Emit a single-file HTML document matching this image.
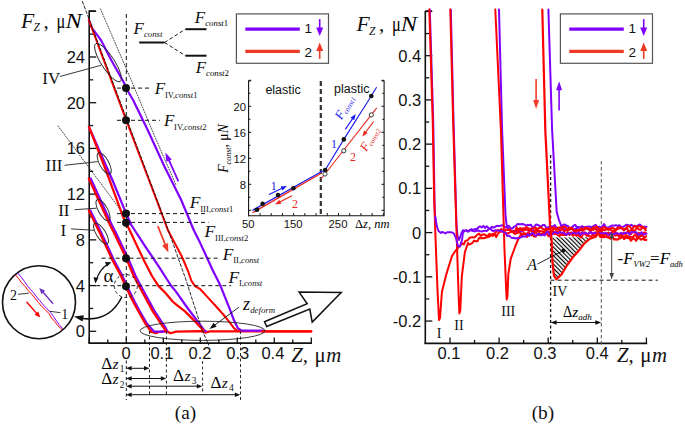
<!DOCTYPE html>
<html><head><meta charset="utf-8"><style>
html,body{margin:0;padding:0;background:#fff;width:685px;height:424px;overflow:hidden}
svg{display:block}
</style></head><body>
<svg width="685" height="424" viewBox="0 0 685 424">
<rect width="685" height="424" fill="#fff"/>
<line x1="89.20" y1="10.50" x2="89.20" y2="343.20" stroke="#111" stroke-width="1.6" />
<line x1="88.40" y1="343.10" x2="312.00" y2="343.10" stroke="#111" stroke-width="1.6" />
<line x1="89.20" y1="331.30" x2="96.20" y2="331.30" stroke="#111" stroke-width="1.3" />
<line x1="89.20" y1="308.44" x2="93.20" y2="308.44" stroke="#111" stroke-width="1.3" />
<line x1="89.20" y1="285.58" x2="96.20" y2="285.58" stroke="#111" stroke-width="1.3" />
<line x1="89.20" y1="262.72" x2="93.20" y2="262.72" stroke="#111" stroke-width="1.3" />
<line x1="89.20" y1="239.86" x2="96.20" y2="239.86" stroke="#111" stroke-width="1.3" />
<line x1="89.20" y1="217.00" x2="93.20" y2="217.00" stroke="#111" stroke-width="1.3" />
<line x1="89.20" y1="194.14" x2="96.20" y2="194.14" stroke="#111" stroke-width="1.3" />
<line x1="89.20" y1="171.28" x2="93.20" y2="171.28" stroke="#111" stroke-width="1.3" />
<line x1="89.20" y1="148.42" x2="96.20" y2="148.42" stroke="#111" stroke-width="1.3" />
<line x1="89.20" y1="125.56" x2="93.20" y2="125.56" stroke="#111" stroke-width="1.3" />
<line x1="89.20" y1="102.70" x2="96.20" y2="102.70" stroke="#111" stroke-width="1.3" />
<line x1="89.20" y1="79.84" x2="93.20" y2="79.84" stroke="#111" stroke-width="1.3" />
<line x1="89.20" y1="56.98" x2="96.20" y2="56.98" stroke="#111" stroke-width="1.3" />
<line x1="89.20" y1="34.12" x2="93.20" y2="34.12" stroke="#111" stroke-width="1.3" />
<line x1="89.20" y1="11.26" x2="96.20" y2="11.26" stroke="#111" stroke-width="1.3" />
<line x1="89.20" y1="10.90" x2="95.70" y2="10.90" stroke="#111" stroke-width="1.3" />
<line x1="89.30" y1="343.10" x2="89.30" y2="337.50" stroke="#111" stroke-width="1.3" />
<line x1="107.80" y1="343.10" x2="107.80" y2="339.60" stroke="#111" stroke-width="1.3" />
<line x1="126.30" y1="343.10" x2="126.30" y2="337.50" stroke="#111" stroke-width="1.3" />
<line x1="144.80" y1="343.10" x2="144.80" y2="339.60" stroke="#111" stroke-width="1.3" />
<line x1="163.30" y1="343.10" x2="163.30" y2="337.50" stroke="#111" stroke-width="1.3" />
<line x1="181.80" y1="343.10" x2="181.80" y2="339.60" stroke="#111" stroke-width="1.3" />
<line x1="200.30" y1="343.10" x2="200.30" y2="337.50" stroke="#111" stroke-width="1.3" />
<line x1="218.80" y1="343.10" x2="218.80" y2="339.60" stroke="#111" stroke-width="1.3" />
<line x1="237.30" y1="343.10" x2="237.30" y2="337.50" stroke="#111" stroke-width="1.3" />
<line x1="255.80" y1="343.10" x2="255.80" y2="339.60" stroke="#111" stroke-width="1.3" />
<line x1="274.30" y1="343.10" x2="274.30" y2="337.50" stroke="#111" stroke-width="1.3" />
<line x1="292.80" y1="343.10" x2="292.80" y2="339.60" stroke="#111" stroke-width="1.3" />
<line x1="311.30" y1="343.10" x2="311.30" y2="337.50" stroke="#111" stroke-width="1.3" />
<text x="85.00" y="337.30" font-size="16.5" style="font-family:'Liberation Sans',sans-serif" text-anchor="end" fill="#111" >0</text>
<text x="85.00" y="291.58" font-size="16.5" style="font-family:'Liberation Sans',sans-serif" text-anchor="end" fill="#111" >4</text>
<text x="85.00" y="245.86" font-size="16.5" style="font-family:'Liberation Sans',sans-serif" text-anchor="end" fill="#111" >8</text>
<text x="85.00" y="200.14" font-size="16.5" style="font-family:'Liberation Sans',sans-serif" text-anchor="end" fill="#111" >12</text>
<text x="85.00" y="154.42" font-size="16.5" style="font-family:'Liberation Sans',sans-serif" text-anchor="end" fill="#111" >16</text>
<text x="85.00" y="108.70" font-size="16.5" style="font-family:'Liberation Sans',sans-serif" text-anchor="end" fill="#111" >20</text>
<text x="85.00" y="62.98" font-size="16.5" style="font-family:'Liberation Sans',sans-serif" text-anchor="end" fill="#111" >24</text>
<text x="126.10" y="359.30" font-size="16.5" style="font-family:'Liberation Sans',sans-serif" text-anchor="middle" fill="#111" >0</text>
<text x="161.90" y="359.30" font-size="16.5" style="font-family:'Liberation Sans',sans-serif" text-anchor="middle" fill="#111" >0.1</text>
<text x="200.00" y="359.30" font-size="16.5" style="font-family:'Liberation Sans',sans-serif" text-anchor="middle" fill="#111" >0.2</text>
<text x="237.70" y="359.30" font-size="16.5" style="font-family:'Liberation Sans',sans-serif" text-anchor="middle" fill="#111" >0.3</text>
<text x="272.90" y="359.30" font-size="16.5" style="font-family:'Liberation Sans',sans-serif" text-anchor="middle" fill="#111" >0.4</text>
<polyline points="100.50,9.00 131.50,80.80 154.10,135.00 176.00,185.00" fill="none" stroke="#333" stroke-width="0.9" stroke-linejoin="round" stroke-linecap="round" stroke-dasharray="1,1.6" />
<polyline points="58.00,126.00 124.00,214.50" fill="none" stroke="#333" stroke-width="0.9" stroke-linejoin="round" stroke-linecap="round" stroke-dasharray="1,1.6" />
<polyline points="150.00,331.40 155.60,333.20 160.00,331.80 167.00,331.20 170.50,333.20 176.00,331.60 202.00,331.20 205.20,332.60 210.00,331.40 311.30,331.30" fill="none" stroke="#ff0000" stroke-width="2.2" stroke-linejoin="round" stroke-linecap="round" />
<polyline points="90.30,210.30 97.40,225.00 100.90,232.00 113.90,260.00 122.50,276.00 127.10,286.20 134.50,301.50 141.50,314.20 147.20,324.10 154.00,331.60 164.00,331.60" fill="none" stroke="#8000ff" stroke-width="2.2" stroke-linejoin="round" stroke-linecap="round" />
<polyline points="88.80,210.30 95.90,225.00 99.40,232.00 112.40,260.00 121.00,276.00 125.60,286.20 133.00,301.50 140.00,314.20 145.70,324.10 151.40,331.90" fill="none" stroke="#ff0000" stroke-width="2.2" stroke-linejoin="round" stroke-linecap="round" />
<polyline points="90.70,178.50 111.90,225.00 115.50,232.00 128.20,258.50 135.60,276.00 140.90,286.00 146.20,295.80 154.70,311.40 160.30,319.80 166.00,328.30 167.00,331.40" fill="none" stroke="#8000ff" stroke-width="2.2" stroke-linejoin="round" stroke-linecap="round" />
<polyline points="88.80,178.50 110.00,225.00 113.60,232.00 126.30,258.50 133.70,276.00 139.00,286.00 144.30,295.80 152.80,311.40 158.40,319.80 164.10,328.30 166.40,331.50" fill="none" stroke="#ff0000" stroke-width="2.2" stroke-linejoin="round" stroke-linecap="round" />
<polyline points="89.00,127.00 107.90,170.00 112.40,180.00 126.30,213.80 131.30,225.00 146.00,247.60 151.50,255.70 160.00,268.40 164.80,276.00 171.30,286.00 176.00,291.60 185.00,304.50 204.30,330.40 206.00,331.20" fill="none" stroke="#8000ff" stroke-width="2.2" stroke-linejoin="round" stroke-linecap="round" />
<polyline points="89.00,127.00 105.80,170.00 125.60,223.70 128.60,228.00 143.70,260.00 152.00,276.00 158.40,285.90 165.50,293.00 172.60,301.50 176.00,304.30 185.00,311.40 194.20,320.60 203.40,330.60" fill="none" stroke="#ff0000" stroke-width="2.2" stroke-linejoin="round" stroke-linecap="round" />
<polyline points="89.00,20.50 92.20,28.30 100.60,39.60 111.20,60.00 125.40,85.20 126.00,88.00 133.10,100.00 147.70,130.00 164.20,166.00 181.20,200.00 193.70,230.00 200.00,242.60 206.20,256.00 212.60,270.00 220.30,285.30 229.50,308.30 234.10,320.60 237.90,328.30 241.70,330.60 246.00,330.60 263.00,330.60" fill="none" stroke="#8000ff" stroke-width="2.2" stroke-linejoin="round" stroke-linecap="round" />
<polyline points="88.80,20.00 126.20,120.20 149.00,180.00 159.00,206.40 167.80,230.00 181.60,256.00 188.00,271.00 191.50,281.00 195.00,286.10 200.30,289.20 208.00,297.60 215.70,306.00 223.30,314.50 229.50,322.10 234.10,328.30 237.10,330.60 240.00,331.30" fill="none" stroke="#ff0000" stroke-width="2.0" stroke-linejoin="round" stroke-linecap="round" />
<polyline points="82.40,1.40 127.10,120.20 166.80,226.00 185.20,277.70 202.60,331.30 208.70,345.00" fill="none" stroke="#111" stroke-width="0.9" stroke-linejoin="round" stroke-linecap="round" stroke-dasharray="3,2" />
<polyline points="262.00,331.30 311.30,331.30" fill="none" stroke="#ff0000" stroke-width="2.2" stroke-linejoin="round" stroke-linecap="round" />
<line x1="117.00" y1="88.10" x2="151.90" y2="88.10" stroke="#111" stroke-width="1" stroke-dasharray="4,3" />
<line x1="117.00" y1="120.30" x2="159.90" y2="120.30" stroke="#111" stroke-width="1" stroke-dasharray="4,3" />
<line x1="117.00" y1="213.60" x2="205.00" y2="213.60" stroke="#111" stroke-width="1" stroke-dasharray="4,3" />
<line x1="117.00" y1="222.40" x2="208.50" y2="222.40" stroke="#111" stroke-width="1" stroke-dasharray="4,3" />
<line x1="101.60" y1="258.20" x2="218.80" y2="258.20" stroke="#111" stroke-width="1" stroke-dasharray="4,3" />
<line x1="96.30" y1="285.70" x2="231.10" y2="285.70" stroke="#111" stroke-width="1" stroke-dasharray="4,3" />
<line x1="126.30" y1="14.00" x2="126.30" y2="343.00" stroke="#111" stroke-width="1" stroke-dasharray="4,3" />
<line x1="126.30" y1="360.50" x2="126.30" y2="400.00" stroke="#111" stroke-width="1" stroke-dasharray="3,2.5" />
<circle cx="126" cy="88.1" r="4" fill="#111"/>
<circle cx="126" cy="120.3" r="4" fill="#111"/>
<circle cx="126" cy="213.6" r="4" fill="#111"/>
<circle cx="126" cy="222.8" r="4" fill="#111"/>
<circle cx="126" cy="258.3" r="4" fill="#111"/>
<circle cx="126" cy="286.3" r="4" fill="#111"/>
<ellipse cx="108" cy="62.6" rx="22.5" ry="6.5" transform="rotate(57 108 62.6)" fill="none" stroke="#222" stroke-width="0.9"/>
<ellipse cx="104.2" cy="163.4" rx="12" ry="4.6" transform="rotate(61 104.2 163.4)" fill="none" stroke="#222" stroke-width="0.9"/>
<ellipse cx="103" cy="210.1" rx="12" ry="4.6" transform="rotate(61 103 210.1)" fill="none" stroke="#222" stroke-width="0.9"/>
<ellipse cx="101" cy="233.5" rx="12" ry="4.6" transform="rotate(58 101 233.5)" fill="none" stroke="#222" stroke-width="0.9"/>
<ellipse cx="202.5" cy="330.8" rx="62.5" ry="9.6" transform="rotate(0 202.5 330.8)" fill="none" stroke="#222" stroke-width="0.9"/>
<circle cx="125.8" cy="286" r="11.5" fill="none" stroke="#222" stroke-width="1" stroke-dasharray="3,2.5"/>
<text x="42.30" y="83.50" font-size="17" style="font-family:'Liberation Serif',serif" text-anchor="start" fill="#111" >IV</text>
<line x1="59.90" y1="76.50" x2="101.00" y2="65.30" stroke="#222" stroke-width="0.9" />
<text x="45.50" y="171.00" font-size="17" style="font-family:'Liberation Serif',serif" text-anchor="start" fill="#111" >III</text>
<line x1="64.50" y1="165.30" x2="97.80" y2="161.60" stroke="#222" stroke-width="0.9" />
<text x="58.20" y="216.20" font-size="17" style="font-family:'Liberation Serif',serif" text-anchor="start" fill="#111" >II</text>
<line x1="74.60" y1="209.70" x2="96.40" y2="208.20" stroke="#222" stroke-width="0.9" />
<text x="60.50" y="236.00" font-size="17" style="font-family:'Liberation Serif',serif" text-anchor="start" fill="#111" >I</text>
<line x1="71.00" y1="228.90" x2="94.40" y2="230.30" stroke="#222" stroke-width="0.9" />
<text x="103.50" y="282.30" font-size="19" style="font-family:'Liberation Serif',serif" text-anchor="start" fill="#111" >α</text>
<path d="M 108.5 263.5 A 30 30 0 0 0 96 281" fill="none" stroke="#111" stroke-width="1.2"/>
<polygon points="111.50,262.30 106.72,266.70 105.01,262.00" fill="#111"/>
<polygon points="95.40,283.50 93.43,277.30 98.41,277.74" fill="#111"/>
<path d="M 121.8 297 C 113 315, 98 320.8, 81 318.2" fill="none" stroke="#111" stroke-width="1.6"/>
<polygon points="73.90,316.50 83.86,315.26 82.54,321.62" fill="#111"/>
<circle cx="39" cy="302.2" r="36.5" fill="none" stroke="#111" stroke-width="1.6"/>
<polyline points="17.82,273.35 21.34,277.17 24.41,281.35 27.12,285.39 30.28,289.21 33.50,292.75 37.04,297.38 39.92,300.67 43.61,305.29 46.75,308.63 50.33,312.18 53.40,316.31 55.87,320.03 59.22,324.62 62.28,328.28" fill="none" stroke="#8000ff" stroke-width="1" stroke-linejoin="round" stroke-linecap="round" />
<polyline points="15.44,275.07 18.65,278.63 21.47,282.63 25.40,286.72 28.34,290.74 31.79,294.32 35.44,298.58 38.19,302.32 41.78,306.49 45.29,309.77 48.85,313.46 51.60,317.96 54.64,321.56 57.83,325.60 61.86,329.37" fill="none" stroke="#ff0000" stroke-width="1" stroke-linejoin="round" stroke-linecap="round" />
<line x1="53.10" y1="303.80" x2="42.45" y2="291.53" stroke="#6a30c0" stroke-width="1.3" />
<polygon points="39.30,287.90 45.12,290.79 41.34,294.07" fill="#6a30c0"/>
<line x1="26.50" y1="301.70" x2="37.15" y2="313.97" stroke="#ff0000" stroke-width="1.3" />
<polygon points="40.30,317.60 34.48,314.71 38.26,311.43" fill="#ff0000"/>
<text x="10.00" y="299.60" font-size="14" style="font-family:'Liberation Serif',serif" text-anchor="start" fill="#111" >2</text>
<line x1="18.00" y1="294.30" x2="28.70" y2="293.20" stroke="#222" stroke-width="0.9" />
<text x="61.30" y="318.70" font-size="14" style="font-family:'Liberation Serif',serif" text-anchor="start" fill="#111" >1</text>
<line x1="49.90" y1="311.30" x2="60.50" y2="312.70" stroke="#222" stroke-width="0.9" />
<line x1="239.00" y1="307.10" x2="214.00" y2="325.66" stroke="#111" stroke-width="0.9" />
<polygon points="209.50,329.00 213.63,322.82 216.61,326.83" fill="#111"/>
<text x="243.00" y="310.00" font-size="18" style="font-family:'Liberation Serif',serif;font-style:italic" text-anchor="start" fill="#111" >z</text>
<text x="250.20" y="313.20" font-size="8.8" style="font-family:'Liberation Serif',serif;font-style:italic" text-anchor="start" fill="#111" >deform</text>
<polygon points="264.5,321.7 307.2,303.7 299.1,292.1 341.2,292.5 312.2,322.1 309.8,309.1 266.7,326.5" fill="#fff" stroke="#111" stroke-width="1.5" stroke-linejoin="miter"/>
<text x="154.80" y="94.00" font-size="17" style="font-family:'Liberation Serif',serif;font-style:italic" text-anchor="start" fill="#111" >F</text>
<text x="165.00" y="97.60" font-size="8.6" style="font-family:'Liberation Serif',serif" fill="#111">IV,<tspan font-style="italic">const</tspan>1</text>
<text x="163.90" y="126.10" font-size="17" style="font-family:'Liberation Serif',serif;font-style:italic" text-anchor="start" fill="#111" >F</text>
<text x="174.10" y="129.70" font-size="8.6" style="font-family:'Liberation Serif',serif" fill="#111">IV,<tspan font-style="italic">const</tspan>2</text>
<text x="189.70" y="208.20" font-size="17.5" style="font-family:'Liberation Serif',serif;font-style:italic" text-anchor="start" fill="#111" >F</text>
<text x="200.20" y="211.80" font-size="8.6" style="font-family:'Liberation Serif',serif" fill="#111">III,<tspan font-style="italic">const</tspan>1</text>
<text x="204.60" y="237.30" font-size="17.5" style="font-family:'Liberation Serif',serif;font-style:italic" text-anchor="start" fill="#111" >F</text>
<text x="215.10" y="240.90" font-size="8.6" style="font-family:'Liberation Serif',serif" fill="#111">III,<tspan font-style="italic">const</tspan>2</text>
<text x="222.70" y="259.50" font-size="17.5" style="font-family:'Liberation Serif',serif;font-style:italic" text-anchor="start" fill="#111" >F</text>
<text x="233.20" y="263.10" font-size="8.6" style="font-family:'Liberation Serif',serif" fill="#111">II,<tspan font-style="italic">const</tspan></text>
<text x="228.50" y="282.80" font-size="17.5" style="font-family:'Liberation Serif',serif;font-style:italic" text-anchor="start" fill="#111" >F</text>
<text x="239.00" y="286.40" font-size="8.6" style="font-family:'Liberation Serif',serif" fill="#111">I,<tspan font-style="italic">const</tspan></text>
<line x1="178.40" y1="181.40" x2="168.35" y2="158.97" stroke="#8000ff" stroke-width="1.8" />
<polygon points="165.40,152.40 171.82,159.39 166.34,161.84" fill="#8000ff"/>
<line x1="157.80" y1="226.00" x2="165.73" y2="245.91" stroke="#f03c28" stroke-width="1.8" />
<polygon points="168.40,252.60 162.05,245.44 168.09,243.04" fill="#f03c28"/>
<text x="133.50" y="33.60" font-size="17" style="font-family:'Liberation Serif',serif;font-style:italic" text-anchor="start" fill="#111" >F</text>
<text x="143.90" y="36.80" font-size="8.8" style="font-family:'Liberation Serif',serif;font-style:italic" text-anchor="start" fill="#111" >const</text>
<line x1="139.20" y1="42.50" x2="164.60" y2="42.50" stroke="#111" stroke-width="2" />
<line x1="164.60" y1="42.50" x2="185.40" y2="29.20" stroke="#111" stroke-width="1" stroke-dasharray="3.5,2.5" />
<line x1="164.60" y1="42.50" x2="185.40" y2="55.70" stroke="#111" stroke-width="1" stroke-dasharray="3.5,2.5" />
<line x1="185.40" y1="29.20" x2="206.50" y2="29.20" stroke="#111" stroke-width="2" />
<line x1="185.40" y1="55.70" x2="206.50" y2="55.70" stroke="#111" stroke-width="2" />
<text x="194.80" y="23.00" font-size="17" style="font-family:'Liberation Serif',serif;font-style:italic" text-anchor="start" fill="#111" >F</text>
<text x="205.2" y="26" font-size="8.8" style="font-family:'Liberation Serif',serif"><tspan font-style="italic">const</tspan>1</text>
<text x="195.80" y="72.60" font-size="17" style="font-family:'Liberation Serif',serif;font-style:italic" text-anchor="start" fill="#111" >F</text>
<text x="206" y="76" font-size="8.8" style="font-family:'Liberation Serif',serif"><tspan font-style="italic">const</tspan>2</text>
<text x="21.00" y="27.50" font-size="21.6" style="font-family:'Liberation Serif',serif;font-style:italic" text-anchor="start" fill="#111" >F</text>
<text x="33.60" y="31.30" font-size="11.5" style="font-family:'Liberation Serif',serif;font-style:italic" text-anchor="start" fill="#111" >Z</text>
<text x="43.60" y="27.50" font-size="21" style="font-family:'Liberation Serif',serif" text-anchor="start" fill="#111" >,</text>
<text x="56.60" y="27.5" font-size="21" style="font-family:'Liberation Serif',serif" textLength="8.8" lengthAdjust="spacingAndGlyphs">μ</text>
<text x="65.40" y="27.5" font-size="21" style="font-family:'Liberation Serif',serif;font-style:italic" textLength="16.3" lengthAdjust="spacingAndGlyphs">N</text>
<text x="101.20" y="368.70" font-size="16.5" style="font-family:'Liberation Serif',serif" textLength="11" lengthAdjust="spacingAndGlyphs">Δ</text>
<text x="112.50" y="368.70" font-size="15.5" style="font-family:'Liberation Serif',serif;font-style:italic" text-anchor="start" fill="#111" >z</text>
<text x="119.80" y="371.90" font-size="9.5" style="font-family:'Liberation Serif',serif" text-anchor="start" fill="#111" >1</text>
<text x="101.20" y="384.30" font-size="16.5" style="font-family:'Liberation Serif',serif" textLength="11" lengthAdjust="spacingAndGlyphs">Δ</text>
<text x="112.50" y="384.30" font-size="15.5" style="font-family:'Liberation Serif',serif;font-style:italic" text-anchor="start" fill="#111" >z</text>
<text x="119.80" y="387.50" font-size="9.5" style="font-family:'Liberation Serif',serif" text-anchor="start" fill="#111" >2</text>
<text x="173.10" y="380.90" font-size="16.5" style="font-family:'Liberation Serif',serif" textLength="11" lengthAdjust="spacingAndGlyphs">Δ</text>
<text x="184.40" y="380.90" font-size="15.5" style="font-family:'Liberation Serif',serif;font-style:italic" text-anchor="start" fill="#111" >z</text>
<text x="191.70" y="384.10" font-size="9.5" style="font-family:'Liberation Serif',serif" text-anchor="start" fill="#111" >3</text>
<text x="210.40" y="388.00" font-size="16.5" style="font-family:'Liberation Serif',serif" textLength="11" lengthAdjust="spacingAndGlyphs">Δ</text>
<text x="221.70" y="388.00" font-size="15.5" style="font-family:'Liberation Serif',serif;font-style:italic" text-anchor="start" fill="#111" >z</text>
<text x="229.00" y="391.20" font-size="9.5" style="font-family:'Liberation Serif',serif" text-anchor="start" fill="#111" >4</text>
<line x1="130.50" y1="368.30" x2="145.10" y2="368.30" stroke="#111" stroke-width="1" />
<polygon points="149.50,368.30 144.00,370.55 144.00,366.05" fill="#111"/>
<polygon points="126.10,368.30 131.60,366.05 131.60,370.55" fill="#111"/>
<line x1="130.50" y1="378.50" x2="161.90" y2="378.50" stroke="#111" stroke-width="1" />
<polygon points="166.30,378.50 160.80,380.75 160.80,376.25" fill="#111"/>
<polygon points="126.10,378.50 131.60,376.25 131.60,380.75" fill="#111"/>
<line x1="130.50" y1="386.20" x2="197.90" y2="386.20" stroke="#111" stroke-width="1" />
<polygon points="202.30,386.20 196.80,388.45 196.80,383.95" fill="#111"/>
<polygon points="126.10,386.20 131.60,383.95 131.60,388.45" fill="#111"/>
<line x1="130.50" y1="394.70" x2="235.90" y2="394.70" stroke="#111" stroke-width="1" />
<polygon points="240.30,394.70 234.80,396.95 234.80,392.45" fill="#111"/>
<polygon points="126.10,394.70 131.60,392.45 131.60,396.95" fill="#111"/>
<line x1="149.50" y1="331.00" x2="149.50" y2="394.50" stroke="#111" stroke-width="0.9" stroke-dasharray="3,2.5" />
<line x1="166.40" y1="331.00" x2="166.40" y2="394.50" stroke="#111" stroke-width="0.9" stroke-dasharray="3,2.5" />
<line x1="202.60" y1="361.00" x2="202.60" y2="395.00" stroke="#111" stroke-width="0.9" stroke-dasharray="3,2.5" />
<line x1="240.50" y1="331.00" x2="240.50" y2="400.00" stroke="#111" stroke-width="0.9" stroke-dasharray="3,2.5" />
<text x="185.50" y="419.20" font-size="19.3" style="font-family:'Liberation Serif',serif" text-anchor="middle" fill="#111" >(a)</text>
<text x="542.90" y="419.20" font-size="19.3" style="font-family:'Liberation Serif',serif" text-anchor="middle" fill="#111" >(b)</text>
<text x="291.30" y="362.00" font-size="20.8" style="font-family:'Liberation Serif',serif;font-style:italic" text-anchor="start" fill="#111" >Z,</text>
<text x="314.60" y="362.00" font-size="20.8" style="font-family:'Liberation Serif',serif" text-anchor="start" fill="#111" >μ</text>
<text x="326.30" y="362.00" font-size="20.8" style="font-family:'Liberation Serif',serif;font-style:italic" text-anchor="start" fill="#111" >m</text>
<text x="616.90" y="362.00" font-size="20.8" style="font-family:'Liberation Serif',serif;font-style:italic" text-anchor="start" fill="#111" >Z,</text>
<text x="640.20" y="362.00" font-size="20.8" style="font-family:'Liberation Serif',serif" text-anchor="start" fill="#111" >μ</text>
<text x="651.90" y="362.00" font-size="20.8" style="font-family:'Liberation Serif',serif;font-style:italic" text-anchor="start" fill="#111" >m</text>
<rect x="236.4" y="13.9" width="92.1" height="49.4" fill="#fff" stroke="#555" stroke-width="1.2"/>
<line x1="245.30" y1="29.10" x2="299.80" y2="29.10" stroke="#8000ff" stroke-width="3.2" />
<line x1="245.30" y1="51.30" x2="299.80" y2="51.30" stroke="#ee3a24" stroke-width="3.2" />
<text x="304.60" y="33.20" font-size="13.5" style="font-family:'Liberation Sans',sans-serif" text-anchor="start" fill="#111" >1</text>
<text x="304.60" y="56.90" font-size="13.5" style="font-family:'Liberation Sans',sans-serif" text-anchor="start" fill="#111" >2</text>
<line x1="319.70" y1="19.10" x2="319.70" y2="29.10" stroke="#8000ff" stroke-width="1.6" />
<polygon points="319.70,35.90 316.20,27.40 323.20,27.40" fill="#8000ff"/>
<line x1="319.70" y1="58.90" x2="319.70" y2="49.20" stroke="#ee3a24" stroke-width="1.6" />
<polygon points="319.70,42.40 323.20,50.90 316.20,50.90" fill="#ee3a24"/>
<rect x="560.4" y="13.9" width="92.1" height="49.4" fill="#fff" stroke="#555" stroke-width="1.2"/>
<line x1="569.30" y1="29.10" x2="623.80" y2="29.10" stroke="#8000ff" stroke-width="3.2" />
<line x1="569.30" y1="51.30" x2="623.80" y2="51.30" stroke="#ee3a24" stroke-width="3.2" />
<text x="628.60" y="33.20" font-size="13.5" style="font-family:'Liberation Sans',sans-serif" text-anchor="start" fill="#111" >1</text>
<text x="628.60" y="56.90" font-size="13.5" style="font-family:'Liberation Sans',sans-serif" text-anchor="start" fill="#111" >2</text>
<line x1="643.70" y1="19.10" x2="643.70" y2="29.10" stroke="#8000ff" stroke-width="1.6" />
<polygon points="643.70,35.90 640.20,27.40 647.20,27.40" fill="#8000ff"/>
<line x1="643.70" y1="58.90" x2="643.70" y2="49.20" stroke="#ee3a24" stroke-width="1.6" />
<polygon points="643.70,42.40 647.20,50.90 640.20,50.90" fill="#ee3a24"/>
<line x1="248.60" y1="80.50" x2="248.60" y2="216.20" stroke="#111" stroke-width="1.1" />
<line x1="248.10" y1="215.70" x2="384.60" y2="215.70" stroke="#111" stroke-width="1.1" />
<line x1="384.10" y1="80.50" x2="384.10" y2="215.70" stroke="#111" stroke-width="1.1" />
<line x1="248.60" y1="80.90" x2="251.10" y2="80.90" stroke="#111" stroke-width="1" />
<line x1="384.10" y1="80.90" x2="381.60" y2="80.90" stroke="#111" stroke-width="1" />
<line x1="248.60" y1="210.30" x2="251.20" y2="210.30" stroke="#111" stroke-width="1" />
<line x1="384.10" y1="210.30" x2="381.50" y2="210.30" stroke="#111" stroke-width="1" />
<line x1="248.60" y1="197.30" x2="250.40" y2="197.30" stroke="#111" stroke-width="1" />
<line x1="384.10" y1="197.30" x2="382.30" y2="197.30" stroke="#111" stroke-width="1" />
<line x1="248.60" y1="184.30" x2="251.20" y2="184.30" stroke="#111" stroke-width="1" />
<line x1="384.10" y1="184.30" x2="381.50" y2="184.30" stroke="#111" stroke-width="1" />
<line x1="248.60" y1="171.30" x2="250.40" y2="171.30" stroke="#111" stroke-width="1" />
<line x1="384.10" y1="171.30" x2="382.30" y2="171.30" stroke="#111" stroke-width="1" />
<line x1="248.60" y1="158.30" x2="251.20" y2="158.30" stroke="#111" stroke-width="1" />
<line x1="384.10" y1="158.30" x2="381.50" y2="158.30" stroke="#111" stroke-width="1" />
<line x1="248.60" y1="145.30" x2="250.40" y2="145.30" stroke="#111" stroke-width="1" />
<line x1="384.10" y1="145.30" x2="382.30" y2="145.30" stroke="#111" stroke-width="1" />
<line x1="248.60" y1="132.30" x2="251.20" y2="132.30" stroke="#111" stroke-width="1" />
<line x1="384.10" y1="132.30" x2="381.50" y2="132.30" stroke="#111" stroke-width="1" />
<line x1="248.60" y1="119.30" x2="250.40" y2="119.30" stroke="#111" stroke-width="1" />
<line x1="384.10" y1="119.30" x2="382.30" y2="119.30" stroke="#111" stroke-width="1" />
<line x1="248.60" y1="106.30" x2="251.20" y2="106.30" stroke="#111" stroke-width="1" />
<line x1="384.10" y1="106.30" x2="381.50" y2="106.30" stroke="#111" stroke-width="1" />
<line x1="248.60" y1="93.30" x2="250.40" y2="93.30" stroke="#111" stroke-width="1" />
<line x1="384.10" y1="93.30" x2="382.30" y2="93.30" stroke="#111" stroke-width="1" />
<line x1="248.60" y1="80.30" x2="251.20" y2="80.30" stroke="#111" stroke-width="1" />
<line x1="384.10" y1="80.30" x2="381.50" y2="80.30" stroke="#111" stroke-width="1" />
<line x1="260.01" y1="215.70" x2="260.01" y2="213.10" stroke="#111" stroke-width="1" />
<line x1="271.23" y1="215.70" x2="271.23" y2="213.10" stroke="#111" stroke-width="1" />
<line x1="282.44" y1="215.70" x2="282.44" y2="213.10" stroke="#111" stroke-width="1" />
<line x1="293.65" y1="215.70" x2="293.65" y2="213.10" stroke="#111" stroke-width="1" />
<line x1="304.86" y1="215.70" x2="304.86" y2="213.10" stroke="#111" stroke-width="1" />
<line x1="316.08" y1="215.70" x2="316.08" y2="213.10" stroke="#111" stroke-width="1" />
<line x1="327.29" y1="215.70" x2="327.29" y2="213.10" stroke="#111" stroke-width="1" />
<line x1="338.50" y1="215.70" x2="338.50" y2="213.10" stroke="#111" stroke-width="1" />
<line x1="349.71" y1="215.70" x2="349.71" y2="213.10" stroke="#111" stroke-width="1" />
<line x1="360.93" y1="215.70" x2="360.93" y2="213.10" stroke="#111" stroke-width="1" />
<line x1="372.14" y1="215.70" x2="372.14" y2="213.10" stroke="#111" stroke-width="1" />
<line x1="383.35" y1="215.70" x2="383.35" y2="213.10" stroke="#111" stroke-width="1" />
<text x="246.00" y="188.50" font-size="11.3" style="font-family:'Liberation Sans',sans-serif" text-anchor="end" fill="#111" >8</text>
<text x="246.00" y="162.50" font-size="11.3" style="font-family:'Liberation Sans',sans-serif" text-anchor="end" fill="#111" >12</text>
<text x="246.00" y="136.50" font-size="11.3" style="font-family:'Liberation Sans',sans-serif" text-anchor="end" fill="#111" >16</text>
<text x="246.00" y="110.50" font-size="11.3" style="font-family:'Liberation Sans',sans-serif" text-anchor="end" fill="#111" >20</text>
<text x="248.30" y="228.40" font-size="11.3" style="font-family:'Liberation Sans',sans-serif" text-anchor="middle" fill="#111" >50</text>
<text x="293.15" y="228.40" font-size="11.3" style="font-family:'Liberation Sans',sans-serif" text-anchor="middle" fill="#111" >150</text>
<text x="338.00" y="228.40" font-size="11.3" style="font-family:'Liberation Sans',sans-serif" text-anchor="middle" fill="#111" >250</text>
<text x="355" y="228.3" font-size="12.5" style="font-family:'Liberation Serif',serif">Δ<tspan font-style="italic">z, nm</tspan></text>
<text transform="translate(228.2,172.8) rotate(-90)" font-size="13.7" style="font-family:'Liberation Serif',serif"><tspan font-style="italic">F</tspan><tspan font-style="italic" font-size="8" dy="2.5">const</tspan><tspan dy="-2.5">, μ</tspan><tspan font-style="italic">N</tspan></text>
<text x="265.40" y="94.40" font-size="12.5" style="font-family:'Liberation Sans',sans-serif" text-anchor="start" fill="#111" >elastic</text>
<text x="334.00" y="93.20" font-size="12.5" style="font-family:'Liberation Sans',sans-serif" text-anchor="start" fill="#111" >plastic</text>
<line x1="320.80" y1="81.00" x2="320.80" y2="215.70" stroke="#333" stroke-width="2.2" stroke-dasharray="5,3" />
<polyline points="253.00,210.10 320.80,172.00" fill="none" stroke="#1a1aee" stroke-width="1.4" stroke-linejoin="round" stroke-linecap="round" />
<polyline points="253.00,212.50 320.80,173.50" fill="none" stroke="#e8281e" stroke-width="1.4" stroke-linejoin="round" stroke-linecap="round" />
<polyline points="320.80,172.00 325.20,170.00 343.80,139.40 371.30,96.00 376.40,87.50" fill="none" stroke="#1a1aee" stroke-width="1.1" stroke-linejoin="round" stroke-linecap="round" />
<polyline points="320.80,179.00 325.00,174.00 343.00,151.00 371.30,114.90 376.40,108.30" fill="none" stroke="#e8281e" stroke-width="1.1" stroke-linejoin="round" stroke-linecap="round" />
<circle cx="257" cy="209.7" r="2.3" fill="#111"/>
<circle cx="262.6" cy="203.7" r="2.3" fill="#111"/>
<circle cx="278" cy="195.1" r="2.3" fill="#111"/>
<circle cx="325.2" cy="170" r="2.3" fill="#111"/>
<circle cx="343.8" cy="139.4" r="2.3" fill="#111"/>
<circle cx="371.3" cy="96" r="2.3" fill="#111"/>
<circle cx="293.4" cy="188.2" r="2.3" fill="#111"/>
<circle cx="325" cy="174" r="2.1" fill="#fff" stroke="#222" stroke-width="0.9"/>
<circle cx="343.8" cy="150.8" r="2.1" fill="#fff" stroke="#222" stroke-width="0.9"/>
<circle cx="371.3" cy="114.9" r="2.1" fill="#fff" stroke="#222" stroke-width="0.9"/>
<text x="270.70" y="189.70" font-size="12" style="font-family:'Liberation Serif',serif" text-anchor="start" fill="#1a1aee" >1</text>
<text x="292.00" y="207.70" font-size="12" style="font-family:'Liberation Serif',serif" text-anchor="start" fill="#e8281e" >2</text>
<line x1="269.00" y1="194.50" x2="282.66" y2="188.05" stroke="#1a1aee" stroke-width="1.2" />
<polygon points="287.00,186.00 282.54,190.60 280.61,186.53" fill="#1a1aee"/>
<line x1="292.00" y1="195.70" x2="279.26" y2="202.29" stroke="#e8281e" stroke-width="1.2" />
<polygon points="275.00,204.50 279.29,199.74 281.36,203.74" fill="#e8281e"/>
<text x="331.00" y="148.00" font-size="12" style="font-family:'Liberation Serif',serif" text-anchor="start" fill="#1a1aee" >1</text>
<text x="350.00" y="160.50" font-size="12" style="font-family:'Liberation Serif',serif" text-anchor="start" fill="#e8281e" >2</text>
<line x1="345.30" y1="129.40" x2="353.01" y2="117.98" stroke="#1a1aee" stroke-width="1.2" />
<polygon points="355.70,114.00 354.21,120.23 350.48,117.71" fill="#1a1aee"/>
<line x1="373.60" y1="121.50" x2="365.18" y2="132.76" stroke="#e8281e" stroke-width="1.2" />
<polygon points="362.30,136.60 364.09,130.45 367.70,133.14" fill="#e8281e"/>
<text transform="translate(341.5,120.2) rotate(-60)" font-size="12.5" style="font-family:'Liberation Serif',serif" fill="#1a1aee"><tspan font-style="italic">F</tspan><tspan font-style="italic" font-size="7" dy="2">const1</tspan></text>
<text transform="translate(366.5,152) rotate(-60)" font-size="12.5" style="font-family:'Liberation Serif',serif" fill="#e8281e"><tspan font-style="italic">F</tspan><tspan font-style="italic" font-size="7" dy="2">const2</tspan></text>
<line x1="425.30" y1="10.90" x2="425.30" y2="344.10" stroke="#111" stroke-width="1.6" />
<line x1="424.50" y1="343.40" x2="647.20" y2="343.40" stroke="#111" stroke-width="1.6" />
<line x1="425.30" y1="321.06" x2="432.30" y2="321.06" stroke="#111" stroke-width="1.3" />
<line x1="425.30" y1="298.94" x2="429.30" y2="298.94" stroke="#111" stroke-width="1.3" />
<line x1="425.30" y1="276.83" x2="432.30" y2="276.83" stroke="#111" stroke-width="1.3" />
<line x1="425.30" y1="254.72" x2="429.30" y2="254.72" stroke="#111" stroke-width="1.3" />
<line x1="425.30" y1="232.60" x2="432.30" y2="232.60" stroke="#111" stroke-width="1.3" />
<line x1="425.30" y1="210.48" x2="429.30" y2="210.48" stroke="#111" stroke-width="1.3" />
<line x1="425.30" y1="188.37" x2="432.30" y2="188.37" stroke="#111" stroke-width="1.3" />
<line x1="425.30" y1="166.25" x2="429.30" y2="166.25" stroke="#111" stroke-width="1.3" />
<line x1="425.30" y1="144.14" x2="432.30" y2="144.14" stroke="#111" stroke-width="1.3" />
<line x1="425.30" y1="122.02" x2="429.30" y2="122.02" stroke="#111" stroke-width="1.3" />
<line x1="425.30" y1="99.91" x2="432.30" y2="99.91" stroke="#111" stroke-width="1.3" />
<line x1="425.30" y1="77.79" x2="429.30" y2="77.79" stroke="#111" stroke-width="1.3" />
<line x1="425.30" y1="55.68" x2="432.30" y2="55.68" stroke="#111" stroke-width="1.3" />
<line x1="425.30" y1="33.56" x2="429.30" y2="33.56" stroke="#111" stroke-width="1.3" />
<line x1="425.30" y1="11.45" x2="432.30" y2="11.45" stroke="#111" stroke-width="1.3" />
<line x1="425.30" y1="10.90" x2="431.80" y2="10.90" stroke="#111" stroke-width="1.3" />
<line x1="450.00" y1="343.40" x2="450.00" y2="337.60" stroke="#111" stroke-width="1.3" />
<line x1="474.55" y1="343.40" x2="474.55" y2="339.90" stroke="#111" stroke-width="1.3" />
<line x1="499.10" y1="343.40" x2="499.10" y2="337.60" stroke="#111" stroke-width="1.3" />
<line x1="523.65" y1="343.40" x2="523.65" y2="339.90" stroke="#111" stroke-width="1.3" />
<line x1="548.20" y1="343.40" x2="548.20" y2="337.60" stroke="#111" stroke-width="1.3" />
<line x1="572.75" y1="343.40" x2="572.75" y2="339.90" stroke="#111" stroke-width="1.3" />
<line x1="597.30" y1="343.40" x2="597.30" y2="337.60" stroke="#111" stroke-width="1.3" />
<line x1="621.85" y1="343.40" x2="621.85" y2="339.90" stroke="#111" stroke-width="1.3" />
<line x1="646.40" y1="343.40" x2="646.40" y2="337.60" stroke="#111" stroke-width="1.3" />
<text x="421.30" y="61.58" font-size="16.5" style="font-family:'Liberation Sans',sans-serif" text-anchor="end" fill="#111" >0.4</text>
<text x="421.30" y="105.81" font-size="16.5" style="font-family:'Liberation Sans',sans-serif" text-anchor="end" fill="#111" >0.3</text>
<text x="421.30" y="150.04" font-size="16.5" style="font-family:'Liberation Sans',sans-serif" text-anchor="end" fill="#111" >0.2</text>
<text x="421.30" y="194.27" font-size="16.5" style="font-family:'Liberation Sans',sans-serif" text-anchor="end" fill="#111" >0.1</text>
<text x="421.30" y="238.50" font-size="16.5" style="font-family:'Liberation Sans',sans-serif" text-anchor="end" fill="#111" >0</text>
<text x="421.30" y="282.73" font-size="16.5" style="font-family:'Liberation Sans',sans-serif" text-anchor="end" fill="#111" >-0.1</text>
<text x="421.30" y="326.96" font-size="16.5" style="font-family:'Liberation Sans',sans-serif" text-anchor="end" fill="#111" >-0.2</text>
<text x="448.90" y="359.00" font-size="16.5" style="font-family:'Liberation Sans',sans-serif" text-anchor="middle" fill="#111" >0.1</text>
<text x="497.50" y="359.00" font-size="16.5" style="font-family:'Liberation Sans',sans-serif" text-anchor="middle" fill="#111" >0.2</text>
<text x="545.00" y="359.00" font-size="16.5" style="font-family:'Liberation Sans',sans-serif" text-anchor="middle" fill="#111" >0.3</text>
<text x="597.30" y="359.00" font-size="16.5" style="font-family:'Liberation Sans',sans-serif" text-anchor="middle" fill="#111" >0.4</text>
<text x="356.40" y="31.40" font-size="21.6" style="font-family:'Liberation Serif',serif;font-style:italic" text-anchor="start" fill="#111" >F</text>
<text x="369.00" y="35.20" font-size="11.5" style="font-family:'Liberation Serif',serif;font-style:italic" text-anchor="start" fill="#111" >Z</text>
<text x="379.00" y="31.40" font-size="21" style="font-family:'Liberation Serif',serif" text-anchor="start" fill="#111" >,</text>
<text x="392.00" y="31.4" font-size="21" style="font-family:'Liberation Serif',serif" textLength="8.8" lengthAdjust="spacingAndGlyphs">μ</text>
<text x="400.80" y="31.4" font-size="21" style="font-family:'Liberation Serif',serif;font-style:italic" textLength="16.3" lengthAdjust="spacingAndGlyphs">N</text>
<line x1="550.60" y1="155.00" x2="550.60" y2="343.00" stroke="#111" stroke-width="1.3" stroke-dasharray="3,2.5" />
<line x1="601.30" y1="161.00" x2="601.30" y2="346.00" stroke="#555" stroke-width="1" stroke-dasharray="3.5,2.5" />
<line x1="550.60" y1="280.20" x2="657.80" y2="280.20" stroke="#111" stroke-width="1" stroke-dasharray="4,3" />
<defs><pattern id="hatch" patternUnits="userSpaceOnUse" width="3" height="3" patternTransform="rotate(-45)"><line x1="0.6" y1="0" x2="0.6" y2="3" stroke="#000" stroke-width="1.15"/></pattern></defs>
<polygon points="552.4,237.5 590,237.3 589.5,239 584.6,243.1 579.6,249.7 573,257.1 566.4,266.2 561.5,274.5 556.5,279.1 554,276.1 552.4,261.3" fill="url(#hatch)" stroke="none"/>
<polyline points="429.80,9.50 433.20,120.00 434.60,205.00 435.20,217.00 436.50,225.00" fill="none" stroke="#8000ff" stroke-width="2" stroke-linejoin="round" stroke-linecap="round" />
<polyline points="450.80,9.50 453.50,120.00 456.50,225.00 457.50,236.00 459.00,240.00 462.00,232.00 463.00,230.26 464.70,230.88 466.40,230.11 468.10,231.70 469.80,230.24 471.50,229.06 473.20,230.34 474.90,228.93 476.60,229.26 478.30,227.52 480.00,226.21 481.70,227.49 483.40,225.89 485.10,227.95 486.80,226.27 488.50,228.06 490.20,228.78 491.90,226.77 493.60,227.73 495.30,226.72 497.00,225.76 498.70,225.89 500.40,225.69 502.10,225.18 503.80,225.85 505.50,227.52 507.20,227.09 508.90,225.76 510.60,228.29 512.30,228.57 514.00,226.61 515.70,226.22 517.40,224.07 519.10,224.33 520.80,224.29 522.50,223.99 524.20,224.49 525.90,225.69 527.60,224.81 529.30,225.16 531.00,224.68 532.70,228.10 534.40,226.45 536.10,224.51 537.80,225.02 539.50,225.76 541.20,226.77 542.90,225.04 544.60,224.97 546.30,227.66 548.00,227.62 549.70,225.86 551.40,226.33 553.10,226.78 554.80,225.06 556.50,228.01 558.20,228.05 559.90,228.05 561.60,226.33 563.30,224.71 565.00,224.57 566.70,225.75 568.40,226.53 570.10,228.68 571.80,227.36 573.50,225.67 575.20,224.91 576.90,227.31 578.60,226.86 580.30,227.70 582.00,226.14 583.70,227.56 585.40,226.95 587.10,226.73 588.80,226.55 590.50,226.64 592.20,227.56 593.90,225.82 595.60,224.74 597.30,227.58 599.00,226.62 600.70,227.35 602.40,226.36 604.10,224.11 605.80,227.15 607.50,227.67 609.20,227.18 610.90,226.02 612.60,225.39 614.30,225.74 616.00,225.09 617.70,226.06 619.40,225.11 621.10,226.92 622.80,226.92 624.50,226.02 626.20,224.74 627.90,225.07 629.60,225.79 631.30,224.77 633.00,226.06 634.70,225.66 636.40,226.71 638.10,225.34 639.80,224.48 641.50,226.13 643.20,226.89 644.90,226.78 646.60,226.71" fill="none" stroke="#8000ff" stroke-width="2" stroke-linejoin="round" stroke-linecap="round" />
<polyline points="499.00,9.50 502.10,130.00 505.50,215.00 506.50,224.30 508.00,229.00 511.00,230.50 512.00,231.45 513.70,230.94 515.40,231.80 517.10,231.96 518.80,231.11 520.50,232.24 522.20,230.67 523.90,230.23 525.60,229.11 527.30,229.70 529.00,231.19 530.70,230.19 532.40,229.43 534.10,231.88 535.80,231.00 537.50,229.81 539.20,231.47" fill="none" stroke="#8000ff" stroke-width="2" stroke-linejoin="round" stroke-linecap="round" />
<polyline points="548.40,9.50 552.10,130.00 556.70,212.00 559.00,220.00 561.30,226.00 564.00,229.00 567.00,229.50 568.00,228.78 569.70,228.85 571.40,228.40 573.10,228.40 574.80,229.38 576.50,228.24 578.20,229.20 579.90,229.59 581.60,230.42 583.30,228.11 585.00,228.77 586.70,227.45 588.40,229.51 590.10,228.85 591.80,229.60 593.50,229.43 595.20,227.34 596.90,228.82 598.60,229.26" fill="none" stroke="#8000ff" stroke-width="2" stroke-linejoin="round" stroke-linecap="round" />
<polyline points="429.30,9.50 432.70,120.00 434.20,200.00 435.60,240.00 437.50,290.00 439.00,320.00 440.00,318.00 441.90,292.00 446.50,273.60 452.00,256.00 456.00,250.00 457.00,249.29 458.70,247.14 460.40,245.38 462.10,243.17 463.80,244.47 465.50,240.65 467.20,240.55 468.90,238.65 470.60,237.38 472.30,237.20 474.00,237.55 475.70,236.33 477.40,234.59 479.10,233.64 480.80,235.95 482.50,234.52 484.20,234.36 485.90,235.46 487.60,235.82 489.30,233.89 491.00,235.50 492.70,234.06 494.40,233.65 496.10,231.93 497.80,229.82 499.50,230.93 501.20,228.93 502.90,230.43 504.60,231.57 506.30,229.62 508.00,230.04 509.70,229.51 511.40,231.16 513.10,231.52 514.80,231.95 516.50,229.68 518.20,228.84 519.90,229.90 521.60,229.56 523.30,228.14 525.00,228.43 526.70,227.03 528.40,228.21 530.10,230.08 531.80,231.33 533.50,232.36 535.20,229.96 536.90,230.49 538.60,231.97 540.30,230.89 542.00,231.40 543.70,232.19 545.40,229.92 547.10,231.10 548.80,231.87 550.50,231.94 552.20,231.45 553.90,228.31 555.60,228.60 557.30,229.66 559.00,229.84 560.70,230.58 562.40,228.37 564.10,231.47 565.80,230.44 567.50,229.13 569.20,230.00 570.90,228.59 572.60,229.24 574.30,232.14 576.00,229.87 577.70,230.60 579.40,230.96 581.10,229.22 582.80,228.58 584.50,229.57 586.20,228.62 587.90,228.21 589.60,230.41 591.30,229.56 593.00,229.94 594.70,228.62 596.40,229.79 598.10,232.81 599.80,229.30 601.50,231.86 603.20,229.19 604.90,230.56 606.60,228.99 608.30,228.44 610.00,228.94 611.70,230.70 613.40,231.76 615.10,231.02 616.80,228.15 618.50,228.44 620.20,228.31 621.90,227.93 623.60,229.67 625.30,228.71 627.00,228.35 628.70,231.29 630.40,230.39 632.10,229.67 633.80,231.27 635.50,229.71 637.20,227.76 638.90,229.48 640.60,229.85 642.30,227.64 644.00,227.98 645.70,230.39" fill="none" stroke="#ff0000" stroke-width="2" stroke-linejoin="round" stroke-linecap="round" />
<polyline points="450.30,9.50 453.10,120.00 456.80,240.00 458.60,295.00 459.40,313.50 460.30,310.00 461.80,276.70 464.90,252.00 468.00,243.00 469.00,244.42 470.70,244.02 472.40,242.94 474.10,240.57 475.80,241.20 477.50,241.26 479.20,237.66 480.90,238.31 482.60,237.99 484.30,238.13 486.00,237.47 487.70,237.06 489.40,236.66 491.10,234.42 492.80,235.95 494.50,233.83 496.20,237.13 497.90,233.50 499.60,232.08 501.30,231.61 503.00,231.46 504.70,234.13 506.40,233.37 508.10,233.30 509.80,232.41 511.50,231.31 513.20,232.55 514.90,233.91 516.60,233.33 518.30,232.38 520.00,232.80 521.70,235.31 523.40,233.09 525.10,233.48 526.80,233.90 528.50,232.23 530.20,234.65 531.90,235.19 533.60,233.99 535.30,231.99 537.00,233.82 538.70,235.03 540.40,235.00 542.10,233.78 543.80,233.25 545.50,233.52 547.20,232.46 548.90,231.51 550.60,233.76 552.30,230.91 554.00,233.12 555.70,231.93 557.40,231.74 559.10,232.71 560.80,234.65 562.50,234.60 564.20,232.56 565.90,235.11 567.60,231.90 569.30,233.94 571.00,232.40 572.70,235.02 574.40,231.36 576.10,232.46 577.80,232.51 579.50,234.90 581.20,232.82 582.90,234.09 584.60,233.94 586.30,234.25 588.00,234.35 589.70,232.14 591.40,232.33 593.10,234.83 594.80,232.20 596.50,233.80 598.20,230.55 599.90,231.30 601.60,234.71 603.30,235.60 605.00,234.20 606.70,234.72 608.40,232.47 610.10,233.70 611.80,232.92 613.50,231.06 615.20,232.04 616.90,232.87 618.60,233.94 620.30,234.85 622.00,234.19 623.70,232.76 625.40,234.19 627.10,231.98 628.80,232.39 630.50,234.47 632.20,232.64 633.90,231.28 635.60,233.31 637.30,235.65 639.00,232.82 640.70,234.99 642.40,234.18 644.10,232.33 645.80,232.90" fill="none" stroke="#ff0000" stroke-width="2" stroke-linejoin="round" stroke-linecap="round" />
<polyline points="495.30,9.50 500.90,130.00 504.50,250.00 506.20,290.00 506.70,299.50 507.50,296.00 508.30,274.20 510.70,258.90 515.40,246.00 518.90,237.70 521.30,234.00 522.00,235.57 523.70,234.07 525.40,234.11 527.10,236.95 528.80,233.55 530.50,234.07 532.20,234.14 533.90,236.35 535.60,236.67 537.30,234.64 539.00,233.78 540.70,233.53 542.40,234.74 544.10,231.88 545.80,232.82 547.50,234.72 549.20,236.43 550.90,232.47 552.60,233.10 554.30,234.14 556.00,233.40 557.70,235.02 559.40,236.33 561.10,233.92 562.80,235.07 564.50,234.91 566.20,234.54 567.90,233.54 569.60,234.97 571.30,233.73 573.00,235.97 574.70,233.54 576.40,235.96 578.10,234.98 579.80,236.63 581.50,237.50 583.20,233.48 584.90,232.42 586.60,235.72 588.30,235.84 590.00,236.38 591.70,236.08 593.40,234.81 595.10,236.25 596.80,234.20 598.50,232.84 600.20,234.17 601.90,233.86 603.60,233.19 605.30,233.95 607.00,233.72 608.70,236.11 610.40,233.23 612.10,235.09 613.80,234.30 615.50,235.62 617.20,234.47 618.90,236.75 620.60,235.41 622.30,235.06 624.00,238.57 625.70,235.21 627.40,235.97 629.10,236.94 630.80,237.05 632.50,237.47 634.20,235.23 635.90,235.61 637.60,238.07 639.30,236.25 641.00,236.22 642.70,235.09 644.40,238.20 646.10,236.06" fill="none" stroke="#ff0000" stroke-width="2" stroke-linejoin="round" stroke-linecap="round" />
<polyline points="515.00,231.11 516.70,227.51 518.40,231.26 520.10,227.98 521.80,229.77 523.50,230.80 525.20,229.38 526.90,229.46 528.60,230.43 530.30,228.91 532.00,228.42 533.70,228.47 535.40,227.20 537.10,230.12 538.80,228.00 540.50,227.49 542.20,228.44 543.90,229.57 545.60,228.79 547.30,229.13 549.00,229.12 550.70,228.37 552.40,227.90 554.10,227.29 555.80,229.84 557.50,227.76 559.20,227.44 560.90,227.58 562.60,227.10 564.30,226.57 566.00,227.33 567.70,229.97 569.40,227.52 571.10,228.36 572.80,228.56 574.50,231.42 576.20,230.71 577.90,229.90 579.60,229.83 581.30,228.40 583.00,230.91 584.70,227.59 586.40,227.79 588.10,228.85 589.80,228.61 591.50,230.33 593.20,227.34 594.90,227.69 596.60,226.28 598.30,228.36 600.00,229.30 601.70,228.32 603.40,227.10 605.10,227.54 606.80,229.15 608.50,229.97 610.20,229.14 611.90,227.92 613.60,228.20 615.30,229.93 617.00,229.44 618.70,227.30 620.40,227.42 622.10,228.46 623.80,230.48 625.50,229.27 627.20,226.51 628.90,225.95 630.60,227.62 632.30,229.19 634.00,226.37 635.70,226.53 637.40,226.45 639.10,226.14 640.80,226.93 642.50,226.65 644.20,227.99 645.90,228.52" fill="none" stroke="#ff0000" stroke-width="2" stroke-linejoin="round" stroke-linecap="round" />
<polyline points="435.20,217.00 436.50,225.00 438.50,231.00 441.00,233.00 442.00,231.96 443.70,232.43 445.40,233.55 447.10,232.27 448.80,232.26 450.50,232.08 452.20,232.54 453.90,233.62 456.00,238.00 458.00,246.00 460.00,246.50 462.00,240.00 463.00,232.58 464.70,230.81 466.40,230.32 468.10,231.19 469.80,230.13 471.50,230.65 473.20,231.17 474.90,231.47 476.60,230.88 478.30,230.49 480.00,231.15 481.70,231.66 483.40,230.87 485.10,230.73 486.80,231.09 488.50,229.24 490.20,228.58 491.90,230.43 493.60,231.34 495.30,230.08 497.00,230.33 498.70,230.89 500.40,230.53 502.10,231.39 503.80,232.19 505.50,232.69 507.20,236.03 508.90,235.54 510.60,236.90 512.30,238.15 514.00,237.75 515.70,238.67 517.40,237.93 519.10,238.24 520.80,237.45 522.50,236.35 524.20,236.47 525.90,236.58 527.60,233.95 529.30,235.95 531.00,233.86 532.70,232.79 534.40,235.18 536.10,235.68 537.80,233.93 539.50,234.30 541.20,235.35 542.90,234.20 544.60,235.58 546.30,232.48 548.00,231.46 549.70,234.78 551.40,234.96 553.10,233.54 554.80,231.94 556.50,233.01 558.20,233.08 559.90,231.74 561.60,233.09 563.30,232.25 565.00,234.07 566.70,234.82 568.40,232.81 570.10,233.88 571.80,233.56 573.50,232.56 575.20,233.04 576.90,233.58 578.60,232.16 580.30,235.07 582.00,232.60 583.70,233.85 585.40,232.61 587.10,233.66 588.80,233.85 590.50,231.85 592.20,233.47 593.90,233.06 595.60,233.02 597.30,234.05 599.00,233.25 600.70,233.09 602.40,233.11 604.10,233.37 605.80,232.84 607.50,234.31 609.20,234.70 610.90,232.93 612.60,234.02 614.30,234.33 616.00,232.94 617.70,233.68 619.40,234.11 621.10,232.64 622.80,233.93 624.50,232.74 626.20,233.24 627.90,232.56 629.60,234.65 631.30,231.97 633.00,232.21 634.70,232.22 636.40,232.12 638.10,234.83 639.80,234.30 641.50,232.14 643.20,234.77 644.90,234.03 646.60,233.61" fill="none" stroke="#8000ff" stroke-width="1.9" stroke-linejoin="round" stroke-linecap="round" />
<polyline points="542.30,9.50 545.30,130.00 550.00,225.00 551.60,239.80 552.40,261.30 554.00,276.10 556.50,279.30 561.50,274.50 566.40,266.20 573.00,257.10 579.60,249.70 584.60,243.10 589.50,239.00 596.10,236.50 597.00,234.24 598.70,233.90 600.40,237.03 602.10,236.91 603.80,237.13 605.50,236.47 607.20,237.20 608.90,237.59 610.60,238.68 612.30,236.21 614.00,239.38 615.70,239.21 617.40,239.66 619.10,238.48 620.80,238.11 622.50,236.25 624.20,238.88 625.90,237.48 627.60,237.92 629.30,238.21 631.00,240.65 632.70,238.46 634.40,238.66 636.10,240.74 637.80,237.77 639.50,238.44 641.20,239.62 642.90,238.57 644.60,239.82 646.30,239.85" fill="none" stroke="#ff0000" stroke-width="2.2" stroke-linejoin="round" stroke-linecap="round" />
<line x1="536.10" y1="79.10" x2="536.10" y2="101.80" stroke="#f03c28" stroke-width="1.6" />
<polygon points="536.10,109.00 533.10,100.00 539.10,100.00" fill="#f03c28"/>
<line x1="559.10" y1="110.40" x2="559.10" y2="88.50" stroke="#8000ff" stroke-width="1.6" />
<polygon points="559.10,81.30 562.10,90.30 556.10,90.30" fill="#8000ff"/>
<line x1="555.40" y1="322.50" x2="596.50" y2="322.50" stroke="#111" stroke-width="1" />
<polygon points="601.30,322.50 595.30,324.75 595.30,320.25" fill="#111"/>
<polygon points="550.60,322.50 556.60,320.25 556.60,324.75" fill="#111"/>
<line x1="611.70" y1="237.00" x2="611.70" y2="274.40" stroke="#444" stroke-width="1" />
<polygon points="611.70,279.60 609.45,273.10 613.95,273.10" fill="#444"/>
<polygon points="611.70,231.80 613.95,238.30 609.45,238.30" fill="#444"/>
<text x="439.00" y="337.70" font-size="14" style="font-family:'Liberation Serif',serif" text-anchor="middle" fill="#111" >I</text>
<text x="458.90" y="330.00" font-size="14" style="font-family:'Liberation Serif',serif" text-anchor="middle" fill="#111" >II</text>
<text x="508.30" y="315.80" font-size="14" style="font-family:'Liberation Serif',serif" text-anchor="middle" fill="#111" >III</text>
<text x="552.50" y="296.20" font-size="14" style="font-family:'Liberation Serif',serif" text-anchor="start" fill="#111" >IV</text>
<text x="527.20" y="269.50" font-size="16" style="font-family:'Liberation Serif',serif;font-style:italic" text-anchor="start" fill="#111" >A</text>
<line x1="537.50" y1="264.00" x2="563.40" y2="250.50" stroke="#111" stroke-width="0.9" />
<circle cx="563.4" cy="250.5" r="2" fill="#111"/>
<text x="562.9" y="316.6" font-size="17.5" style="font-family:'Liberation Serif',serif" textLength="9.2" lengthAdjust="spacingAndGlyphs">Δ</text>
<text x="572.3" y="316.6" font-size="15.5" style="font-family:'Liberation Serif',serif;font-style:italic">z<tspan font-size="9" dy="3">adh</tspan></text>
<text x="617.5" y="263.9" font-size="17" style="font-family:'Liberation Serif',serif">-<tspan font-style="italic">F</tspan><tspan font-style="italic" font-size="8.5" dy="2.9">VW2</tspan><tspan dy="-2.9">=</tspan><tspan font-style="italic">F</tspan><tspan font-style="italic" font-size="8.5" dy="2.9">adh</tspan></text>
</svg></body></html>
